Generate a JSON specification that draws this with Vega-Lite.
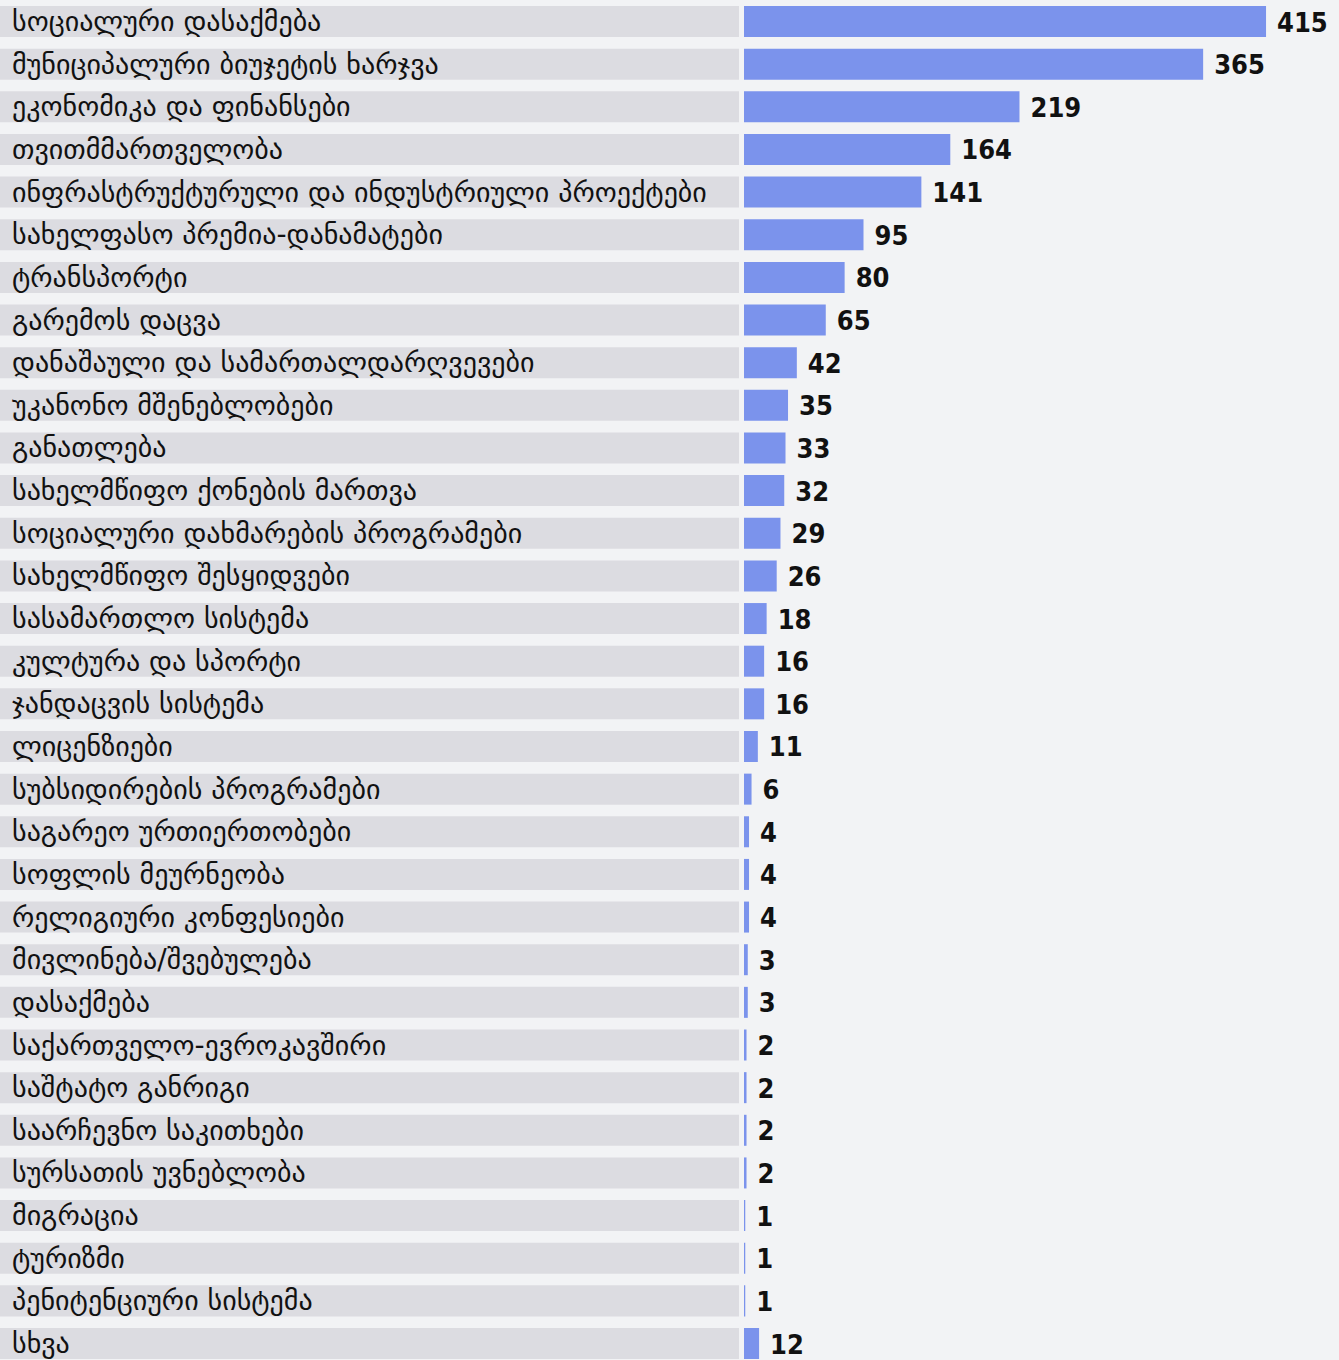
{
  "$schema": "https://vega.github.io/schema/vega-lite/v6.json",
  "background": "#f2f3f5",
  "padding": 0,
  "spacing": 5,
  "config": {"view": {"stroke": null}},
  "data": {"values": [
    {"cat": "სოციალური დასაქმება", "v": 415},
    {"cat": "მუნიციპალური ბიუჯეტის ხარჯვა", "v": 365},
    {"cat": "ეკონომიკა და ფინანსები", "v": 219},
    {"cat": "თვითმმართველობა", "v": 164},
    {"cat": "ინფრასტრუქტურული და ინდუსტრიული პროექტები", "v": 141},
    {"cat": "სახელფასო პრემია-დანამატები", "v": 95},
    {"cat": "ტრანსპორტი", "v": 80},
    {"cat": "გარემოს დაცვა", "v": 65},
    {"cat": "დანაშაული და სამართალდარღვევები", "v": 42},
    {"cat": "უკანონო მშენებლობები", "v": 35},
    {"cat": "განათლება", "v": 33},
    {"cat": "სახელმწიფო ქონების მართვა", "v": 32},
    {"cat": "სოციალური დახმარების პროგრამები", "v": 29},
    {"cat": "სახელმწიფო შესყიდვები", "v": 26},
    {"cat": "სასამართლო სისტემა", "v": 18},
    {"cat": "კულტურა და სპორტი", "v": 16},
    {"cat": "ჯანდაცვის სისტემა", "v": 16},
    {"cat": "ლიცენზიები", "v": 11},
    {"cat": "სუბსიდირების პროგრამები", "v": 6},
    {"cat": "საგარეო ურთიერთობები", "v": 4},
    {"cat": "სოფლის მეურნეობა", "v": 4},
    {"cat": "რელიგიური კონფესიები", "v": 4},
    {"cat": "მივლინება/შვებულება", "v": 3},
    {"cat": "დასაქმება", "v": 3},
    {"cat": "საქართველო-ევროკავშირი", "v": 2},
    {"cat": "საშტატო განრიგი", "v": 2},
    {"cat": "საარჩევნო საკითხები", "v": 2},
    {"cat": "სურსათის უვნებლობა", "v": 2},
    {"cat": "მიგრაცია", "v": 1},
    {"cat": "ტურიზმი", "v": 1},
    {"cat": "პენიტენციური სისტემა", "v": 1},
    {"cat": "სხვა", "v": 12}
  ]},
  "hconcat": [
    {
      "width": 739,
      "height": 1360,
      "encoding": {
        "y": {"field": "cat", "type": "nominal", "sort": null, "axis": null,
              "scale": {"paddingInner": 0.273, "paddingOuter": 0.082, "align": 0.86}}
      },
      "layer": [
        {"mark": {"type": "bar", "color": "#dcdce1"},
         "encoding": {"x": {"value": 0}, "x2": {"value": 739}}},
        {"mark": {"type": "text", "align": "left", "baseline": "middle", "dy": 1.5, "font": "DejaVu Sans", "fontSize": 28, "color": "#111111"},
         "encoding": {"x": {"value": 12}, "text": {"field": "cat"}}}
      ]
    },
    {
      "width": 595,
      "height": 1360,
      "encoding": {
        "y": {"field": "cat", "type": "nominal", "sort": null, "axis": null,
              "scale": {"paddingInner": 0.273, "paddingOuter": 0.082, "align": 0.86}},
        "x": {"field": "v", "type": "quantitative", "axis": null, "scale": {"domain": [0, 473], "nice": false}}
      },
      "layer": [
        {"mark": {"type": "bar", "color": "#7b93ec"}},
        {"mark": {"type": "text", "align": "left", "baseline": "middle", "dx": 11, "dy": 2, "font": "DejaVu Sans Condensed", "fontWeight": "bold", "fontSize": 27, "color": "#111111"},
         "encoding": {"text": {"field": "v", "type": "quantitative"}}}
      ]
    }
  ]
}
